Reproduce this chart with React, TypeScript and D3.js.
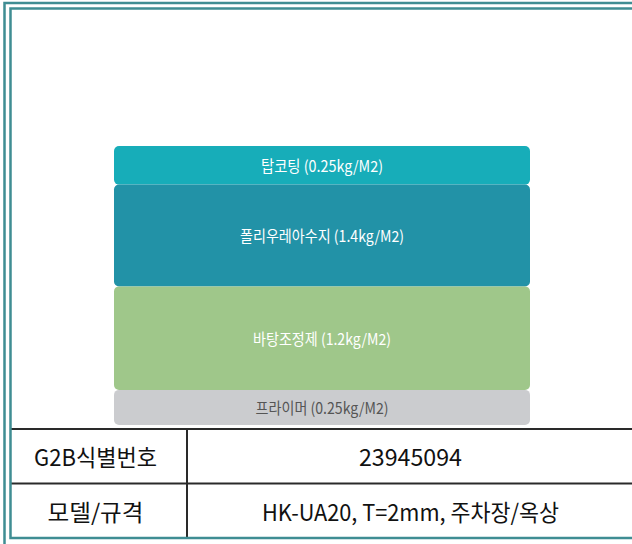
import { useEffect, useRef } from "react";
import * as d3 from "d3";

// layers from top (surface) to bottom (substrate)
const layerNames = ["탑코팅", "폴리우레아수지", "바탕조정제", "프라이머"];
const layerRates = ["0.25kg/M2", "1.4kg/M2", "1.2kg/M2", "0.25kg/M2"];
// relative band thickness of each layer as drawn in the diagram
const layerBands = [1.1, 2.9, 2.95, 1.0];
const layerColors = ["#17adb9", "#2292a7", "#9fc78a", "#cbcccf"];
const layerTextColors = ["#ffffff", "#ffffff", "#ffffff", "#555555"];

const specLabels = ["G2B식별번호", "모델/규격"];
const specValues = ["23945094", "HK-UA20, T=2mm, 주차장/옥상"];

// the original uses a condensed face, so squeeze text to its measured widths
const layerTextFit = [122, 164, 138, 133];
const labelTextFit = [123, 96];
const valueTextFit = [103, 297];

const App = () => {
  const ref = useRef<SVGSVGElement>(null);

  useEffect(() => {
    draw();
  }, []);

  const draw = () => {
    const width = 632;
    const height = 544;
    const font = "'Noto Sans CJK KR', 'Noto Sans', sans-serif";

    const svg = d3.select(ref.current).attr("width", width).attr("height", height);
    svg.selectAll("*").remove();

    svg.append("rect").attr("width", width).attr("height", height).attr("fill", "#fff");

    // stacked layers
    const cum = d3.cumsum(layerBands);
    const starts = layerBands.map((_, i) => (i === 0 ? 0 : cum[i - 1]));
    const yScale = d3.scaleLinear().domain([0, d3.sum(layerBands)]).range([146, 425]);
    const xScale = d3.scaleLinear().domain([0, 1]).range([114, 530]);

    const layers = layerNames.map((name, i) => ({
      name,
      rate: layerRates[i],
      y0: starts[i],
      y1: cum[i],
      color: layerColors[i],
      text: layerTextColors[i],
      fit: layerTextFit[i],
    }));

    const g = svg.append("g");
    g.selectAll("rect")
      .data(layers)
      .join("rect")
      .attr("x", xScale(0))
      .attr("width", xScale(1) - xScale(0))
      .attr("y", (d) => yScale(d.y0))
      .attr("height", (d) => yScale(d.y1) - yScale(d.y0))
      .attr("rx", 5)
      .attr("fill", (d) => d.color);

    g.selectAll("text")
      .data(layers)
      .join("text")
      .attr("x", (xScale(0) + xScale(1)) / 2)
      .attr("y", (d) => (yScale(d.y0) + yScale(d.y1)) / 2)
      .attr("text-anchor", "middle")
      .attr("dominant-baseline", "central")
      .attr("font-family", font)
      .attr("font-size", 15.5)
      .attr("textLength", (d) => d.fit)
      .attr("lengthAdjust", "spacingAndGlyphs")
      .attr("fill", (d) => d.text)
      .text((d) => `${d.name} (${d.rate})`);

    // spec table
    const rowScale = d3.scaleBand().domain(specLabels).range([429, 538]);
    const colX = [10, 187, 632];

    const t = svg.append("g");
    specLabels.forEach((label, i) => {
      const y = rowScale(label)!;
      const h = rowScale.bandwidth();
      t.append("line")
        .attr("x1", colX[0])
        .attr("x2", 640)
        .attr("y1", y)
        .attr("y2", y)
        .attr("stroke", "#2a2a2a")
        .attr("stroke-width", 2);
      t.append("text")
        .attr("x", (colX[0] + colX[1]) / 2 - 3)
        .attr("y", y + h / 2)
        .attr("text-anchor", "middle")
        .attr("dominant-baseline", "central")
        .attr("font-family", font)
        .attr("font-size", 23)
        .attr("textLength", labelTextFit[i])
        .attr("lengthAdjust", "spacingAndGlyphs")
        .attr("fill", "#111")
        .text(label);
      t.append("text")
        .attr("x", (colX[1] + colX[2]) / 2 + 1)
        .attr("y", y + h / 2)
        .attr("text-anchor", "middle")
        .attr("dominant-baseline", "central")
        .attr("font-family", font)
        .attr("font-size", 23)
        .attr("textLength", valueTextFit[i])
        .attr("lengthAdjust", "spacingAndGlyphs")
        .attr("fill", "#111")
        .text(specValues[i]);
    });
    t.append("line")
      .attr("x1", colX[1])
      .attr("x2", colX[1])
      .attr("y1", rowScale.range()[0])
      .attr("y2", rowScale.range()[1])
      .attr("stroke", "#2a2a2a")
      .attr("stroke-width", 2);

    // double frame
    svg.append("rect")
      .attr("x", 4.5)
      .attr("y", 3)
      .attr("width", 660)
      .attr("height", 580)
      .attr("fill", "none")
      .attr("stroke", "#3f8d93")
      .attr("stroke-width", 2.5);
    svg.append("rect")
      .attr("x", 10.5)
      .attr("y", 8.5)
      .attr("width", 660)
      .attr("height", 529.5)
      .attr("fill", "none")
      .attr("stroke", "#3f8d93")
      .attr("stroke-width", 2.5);
  };

  return (
    <div style={{ position: "absolute", left: 0, top: 0 }}>
      <svg ref={ref} style={{ display: "block" }}></svg>
    </div>
  );
};

export default App;
